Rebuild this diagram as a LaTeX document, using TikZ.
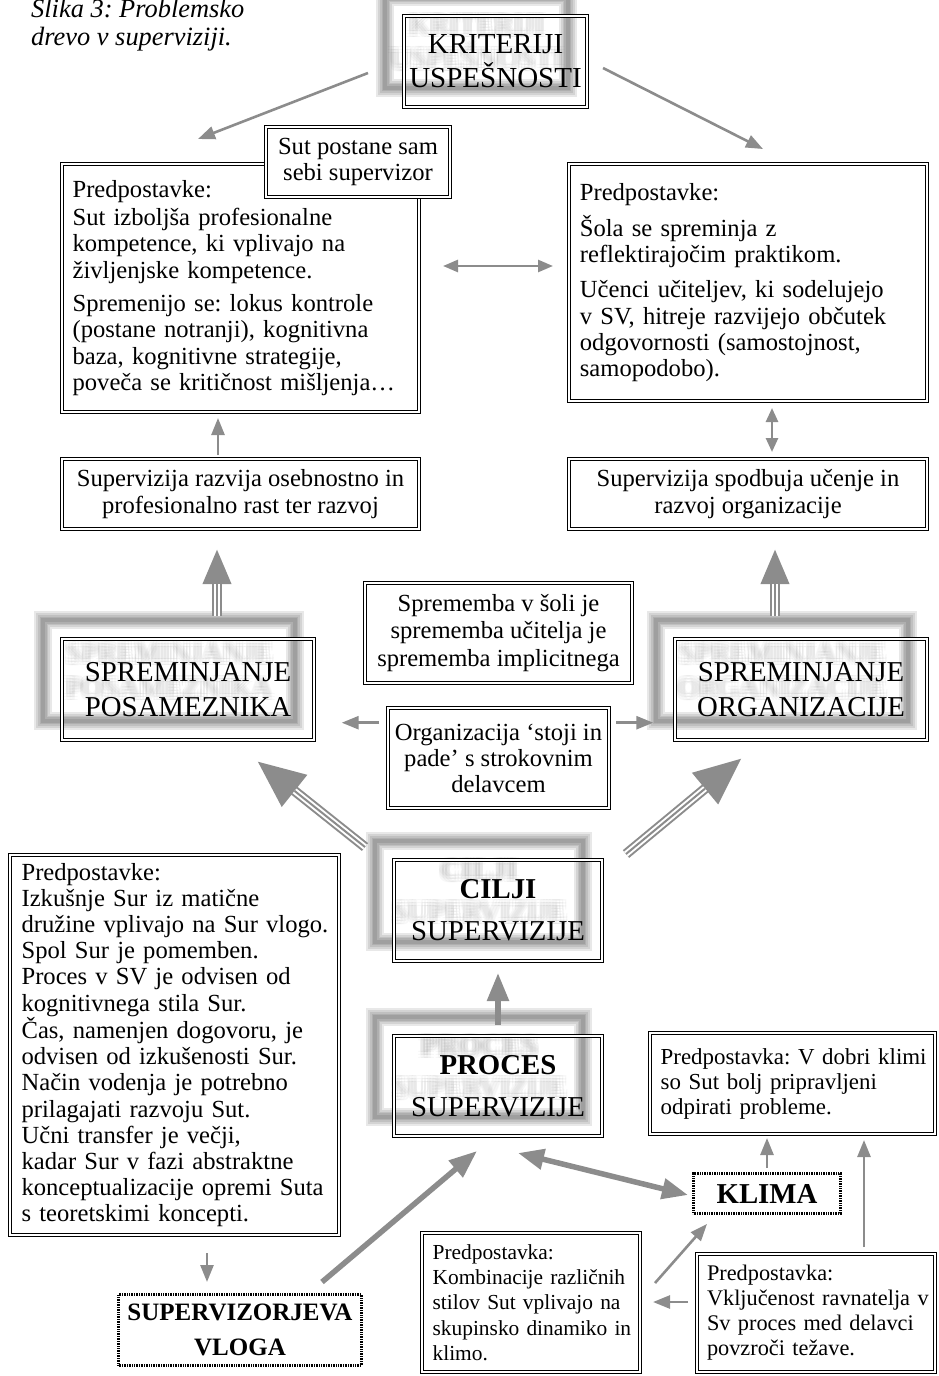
\documentclass[tikz,border=0pt]{standalone}
\usepackage{fontspec}
\setmainfont{Liberation Serif}
\frenchspacing
\usetikzlibrary{arrows.meta,backgrounds}
\definecolor{arrowgray}{HTML}{8C8C8C}
\begin{document}
\begin{tikzpicture}[x=1pt,y=-1pt,
  box/.style={draw, double, double distance=2pt, line width=1.2pt, inner sep=0pt, outer sep=0pt, align=center},
  hatched/.style={draw=black, line width=3.4pt, dash pattern=on 1pt off 0.7pt, inner sep=0pt, outer sep=0pt, align=center},
  body/.style={font=\fontsize{24.6}{26.4}\selectfont},
  caps/.style={font=\fontsize{28.8}{34}\selectfont},
  thinarrow/.style={draw=arrowgray, line width=2.6pt, -{Triangle[length=17pt,width=13pt]}},
  twoway/.style={draw=arrowgray, line width=2.6pt, {Triangle[length=15pt,width=12pt]}-{Triangle[length=15pt,width=12pt]}},
  thickarrow/.style={draw=arrowgray, line width=5.5pt, -{Triangle[length=28pt,width=21pt]}},
  thicktwoway/.style={draw=arrowgray, line width=5.5pt, {Triangle[length=26pt,width=20pt]}-{Triangle[length=26pt,width=20pt]}},
  triple/.style 2 args={draw=arrowgray, line width=10pt, -{Triangle[length=#1,width=#2]},
    postaction={draw=white, line width=6pt, -, shorten >=#1},
    postaction={draw=arrowgray, line width=2pt, -, shorten >=#1}}]
\useasboundingbox (0,0) rectangle (938,1376);

% caption
\node[anchor=north west, inner sep=0pt, align=left, font=\fontsize{26.4}{28.3}\selectfont\itshape] (caption) at (31,-1) {Slika 3: Problemsko\\drevo v superviziji.};

% top row
\node[box, caps, font=\fontsize{29}{34}\selectfont, minimum width=182.6pt, minimum height=90.6pt] (krit) at (495.5,61.5) {KRITERIJI\\USPEŠNOSTI};
\node[box, body, align=left, text width=356.6pt, minimum width=356.6pt, minimum height=247.6pt] (predL) at (240.5,288) {\leftskip=10.4pt Predpostavke:\\[2pt] Sut izboljša profesionalne\\ kompetence, ki vplivajo na\\ življenjske kompetence.\\[6.7pt] Spremenijo se: lokus kontrole\\ (postane notranji), kognitivna\\ baza, kognitivne strategije,\\ poveča se kritičnost mišljenja…\par};
\node[box, body, fill=white, font=\fontsize{24.6}{26}\selectfont, minimum width=183.6pt, minimum height=69.6pt] (sut) at (358,162) {Sut postane sam\\sebi supervizor};
\node[box, body, align=left, font=\fontsize{24.6}{26.2}\selectfont, text width=357.6pt, minimum width=357.6pt, minimum height=236.6pt] (predR) at (748,282.5) {\leftskip=10.7pt Predpostavke:\\[8.8pt] Šola se spreminja z\\ reflektirajočim praktikom.\\[8.8pt] Učenci učiteljev, ki sodelujejo\\ v SV, hitreje razvijejo občutek\\ odgovornosti (samostojnost,\\ samopodobo).\par};

% second row
\node[box, body, minimum width=356.6pt, minimum height=69.6pt] (supL) at (240.5,494) {Supervizija razvija osebnostno in\\profesionalno rast ter razvoj};
\node[box, body, minimum width=357.6pt, minimum height=69.6pt] (supR) at (748,494) {Supervizija spodbuja učenje in\\razvoj organizacije};

% middle
\node[box, caps, font=\fontsize{28.8}{35}\selectfont, minimum width=251.6pt, minimum height=100.6pt] (spremP) at (188,689.5) {SPREMINJANJE\\POSAMEZNIKA};
\node[box, caps, font=\fontsize{28.8}{35}\selectfont, minimum width=251.6pt, minimum height=100.6pt] (spremO) at (801,689.5) {SPREMINJANJE\\ORGANIZACIJE};
\node[box, body, font=\fontsize{24.6}{27.5}\selectfont, minimum width=266.6pt, minimum height=99.6pt] (spremba) at (498.5,633) {Sprememba v šoli je\\sprememba učitelja je\\sprememba implicitnega};
\node[box, body, font=\fontsize{24.6}{26}\selectfont, minimum width=220.6pt, minimum height=99.6pt] (org) at (498.5,758) {Organizacija ‘stoji in\\pade’ s strokovnim\\delavcem};

% centre column
\node[box, caps, minimum width=207.6pt, minimum height=100.6pt] (cilji) at (498,910.5) {\textbf{CILJI}\\[8pt]SUPERVIZIJE};
\node[box, caps, minimum width=207.6pt, minimum height=99.6pt] (proces) at (498,1086) {\textbf{PROCES}\\[8pt]SUPERVIZIJE};

% bottom left
\node[box, body, align=left, font=\fontsize{24.6}{26.2}\selectfont, text width=328.6pt, minimum width=328.6pt, minimum height=379.6pt] (predSur) at (174.5,1045) {\leftskip=11.4pt Predpostavke:\\ Izkušnje Sur iz matične\\ družine vplivajo na Sur vlogo.\\ Spol Sur je pomemben.\\ Proces v SV je odvisen od\\ kognitivnega stila Sur.\\ Čas, namenjen dogovoru, je\\ odvisen od izkušenosti Sur.\\ Način vodenja je potrebno\\ prilagajati razvoju Sut.\\ Učni transfer je večji,\\ kadar Sur v fazi abstraktne\\ konceptualizacije opremi Suta\\ s teoretskimi koncepti.\par\vspace{-8pt}};
\node[hatched, font=\fontsize{25}{35}\selectfont\bfseries, minimum width=243pt, minimum height=71pt] (vloga) at (240,1330) {SUPERVIZORJEVA\\VLOGA};

% bottom right
\node[box, align=left, font=\fontsize{22.9}{25}\selectfont, text width=284.6pt, minimum width=284.6pt, minimum height=100.6pt] (klimaPred) at (792.5,1083.5) {\leftskip=10.5pt Predpostavka: V dobri klimi\\ so Sut bolj pripravljeni\\ odpirati probleme.\par};
\node[hatched, font=\fontsize{28.8}{34}\selectfont\bfseries, minimum width=147pt, minimum height=40pt] (klima) at (767,1193.5) {KLIMA};
\node[box, align=left, font=\fontsize{21.4}{25.3}\selectfont, text width=217.6pt, minimum width=217.6pt, minimum height=138.6pt] (komb) at (531,1302.5) {\leftskip=10.4pt Predpostavka:\\ Kombinacije različnih\\ stilov Sut vplivajo na\\ skupinsko dinamiko in\\ klimo.\par};
\node[box, align=left, font=\fontsize{22.3}{25}\selectfont, text width=237.6pt, minimum width=237.6pt, minimum height=117.6pt] (vklj) at (816,1313) {\leftskip=9.8pt Predpostavka:\\ Vključenost ravnatelja v\\ Sv proces med delavci\\ povzroči težave.\par};

% blurred shadows
\begin{scope}[on background layer]
\foreach \n in {krit,spremP,spremO,cilji,proces}
  \foreach \w in {18pt,14pt,10pt,7pt,4pt}
    \draw[line width=\w, black, opacity=.09] ([shift={(-19,-19)}]\n.north west) rectangle ([shift={(-19,-19)}]\n.south east);
\foreach \dx/\dy in {-3/-3,0/-3,3/-3,-3/0,0/0,3/0,-3/3,0/3,3/3} {
  \node[caps, font=\fontsize{29}{34}\selectfont, align=center, opacity=.03] (kritshadow) at ([shift={(-19+\dx,-19+\dy)}]krit.center) {KRITERIJI\\USPEŠNOSTI};
  \node[caps, font=\fontsize{28.8}{35}\selectfont, align=center, opacity=.03] (spremPshadow) at ([shift={(-19+\dx,-19+\dy)}]spremP.center) {SPREMINJANJE\\POSAMEZNIKA};
  \node[caps, font=\fontsize{28.8}{35}\selectfont, align=center, opacity=.03] (spremOshadow) at ([shift={(-19+\dx,-19+\dy)}]spremO.center) {SPREMINJANJE\\ORGANIZACIJE};
  \node[caps, align=center, opacity=.03] (ciljishadow) at ([shift={(-19+\dx,-19+\dy)}]cilji.center) {\textbf{CILJI}\\[8pt]SUPERVIZIJE};
  \node[caps, align=center, opacity=.03] (processhadow) at ([shift={(-19+\dx,-19+\dy)}]proces.center) {\textbf{PROCES}\\[8pt]SUPERVIZIJE};
}
\end{scope}

% arrows
\draw[thinarrow] ([shift={(-36.2,11.5)}]krit.west) -- ([shift={(-42.5,-25.2)}]predL.north);
\draw[thinarrow] ([shift={(16.2,6.5)}]krit.east) -- ([shift={(15,-15.2)}]predR.north);
\draw[twoway] ([shift={(24.2,-22)}]predL.east) -- ([shift={(-16.2,-16.5)}]predR.west);
\draw[thinarrow] ([shift={(-22.5,-4.2)}]supL.north) -- ([shift={(-22.5,6.2)}]predL.south);
\draw[draw=arrowgray, line width=2.6pt, {Triangle[length=14pt,width=12pt]}-{Triangle[length=14pt,width=12pt]}] ([shift={(24,7.2)}]predR.south) -- ([shift={(24,-7.2)}]supR.north);
\draw[triple={36pt}{26pt}] ([shift={(29,-23.5)}]spremP.north) -- ([shift={(-23.5,19.2)}]supL.south);
\draw[triple={36pt}{26pt}] ([shift={(-26,-23.5)}]spremO.north) -- ([shift={(27,19.2)}]supR.south);
\draw[thinarrow] ([shift={(-9.2,-35.3)}]org.west) -- ([shift={(27.9,33.2)}]spremP.east);
\draw[thinarrow] ([shift={(7.2,-35.3)}]org.east) -- ([shift={(-21.9,33.2)}]spremO.west);
\draw[triple={48pt}{38pt}] ([shift={(-29.2,-13.2)}]cilji.north west) -- ([shift={(-56.8,21.2)}]spremP.south east);
\draw[triple={48pt}{38pt}] ([shift={(24.2,-6.2)}]cilji.north east) -- ([shift={(66.8,18.2)}]spremO.south west);
\draw[thickarrow] ([shift={(0,-11.2)}]proces.north) -- ([shift={(0,12.2)}]cilji.south);
\draw[thinarrow] ([shift={(32.5,18.2)}]predSur.south) -- ([shift={(-33,-12.5)}]vloga.north);
\draw[thickarrow] ([shift={(-39.5,-12.5)}]vloga.north east) -- ([shift={(-21,15.2)}]proces.south);
\draw[thicktwoway] ([shift={(20,17.2)}]proces.south) -- ([shift={(-5.5,1.5)}]klima.west);
\draw[thinarrow] ([shift={(0,-5.5)}]klima.north) -- ([shift={(-25.5,4.2)}]klimaPred.south);
\draw[thinarrow] ([shift={(48,-7.2)}]vklj.north) -- ([shift={(71.5,6.2)}]klimaPred.south);
\draw[thinarrow] ([shift={(-9.2,-11)}]vklj.west) -- ([shift={(13.2,-0.5)}]komb.east);
\draw[thinarrow] ([shift={(15.2,-19.5)}]komb.east) -- ([shift={(13.5,10.5)}]klima.south west);
\end{tikzpicture}
\end{document}
